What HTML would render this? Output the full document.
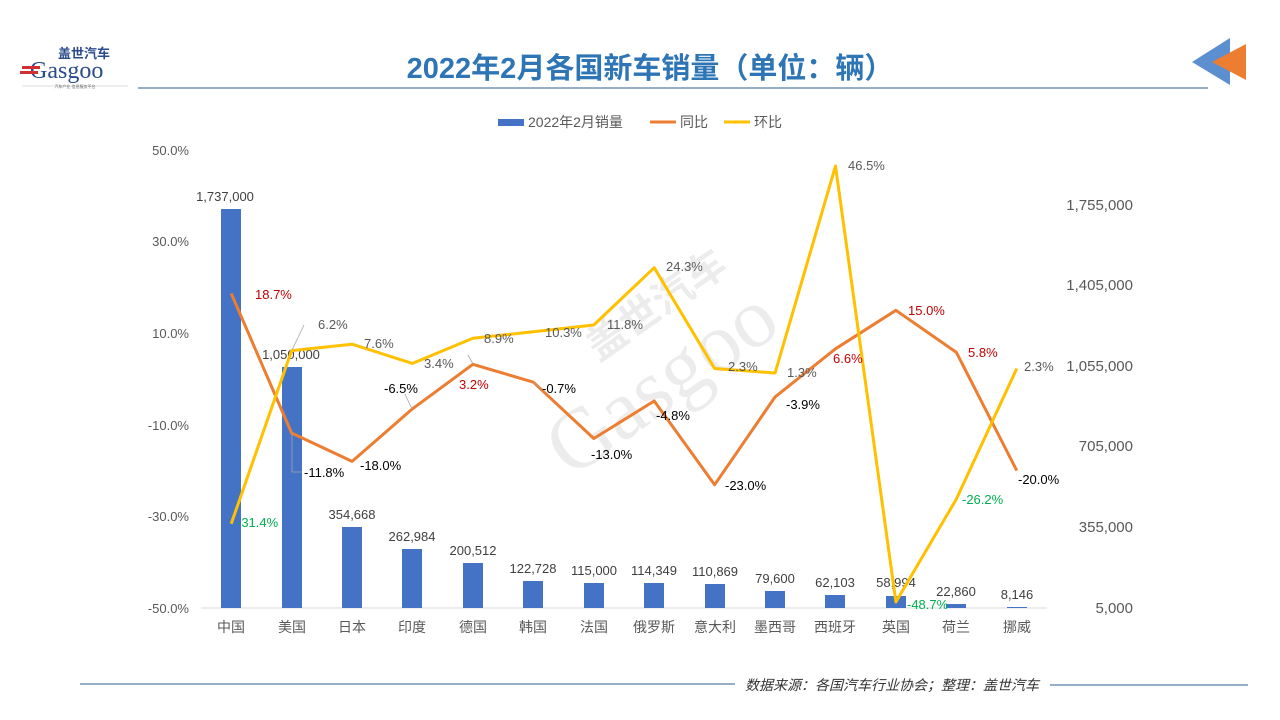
<!DOCTYPE html>
<html><head><meta charset="utf-8"><style>
body{margin:0;background:#fff;}
svg{display:block;font-family:"Liberation Sans","Noto Sans CJK SC",sans-serif;}
</style></head><body>
<svg width="1280" height="720" viewBox="0 0 1280 720">
<!-- logo -->
<text x="58" y="58" font-size="13" font-weight="bold" fill="#2a4b8c" font-family="Noto Sans CJK SC,sans-serif">盖世汽车</text>
<text x="30" y="78" font-size="24" fill="#2a4b8c" font-family="Liberation Serif,serif">Gasgoo</text>
<rect x="22" y="66" width="18" height="3" fill="#d03030"/><rect x="20" y="71" width="18" height="3" fill="#d03030"/>
<line x1="22" y1="86" x2="128" y2="86" stroke="#bbb" stroke-width="0.6"/>
<text x="75" y="88" font-size="4" fill="#666" text-anchor="middle">汽车产业 信息服务平台</text>
<line x1="138" y1="88" x2="1208" y2="88" stroke="#2e5f8a" stroke-width="1"/>
<text x="650" y="78" font-size="29" font-weight="bold" fill="#2e75b6" text-anchor="middle" font-family="Liberation Sans,Noto Sans CJK SC,sans-serif">2022年2月各国新车销量（单位：辆）</text>
<!-- top right arrows -->
<polygon points="1192,62 1230,38 1230,85" fill="#5b8fcf"/>
<polygon points="1212,62 1246,44 1246,80" fill="#ed7d31"/>
<!-- legend -->
<rect x="498" y="119" width="26" height="7" fill="#4472c4"/>
<text x="528" y="127" font-size="14" fill="#595959">2022年2月销量</text>
<line x1="650" y1="122" x2="676" y2="122" stroke="#ed7d31" stroke-width="3"/>
<text x="680" y="127" font-size="14" fill="#595959">同比</text>
<line x1="724" y1="122" x2="750" y2="122" stroke="#ffc000" stroke-width="3"/>
<text x="754" y="127" font-size="14" fill="#595959">环比</text>
<!-- watermark -->
<g opacity="0.07" transform="rotate(-35 660 380)">
<text x="660" y="410" font-size="85" fill="#000" text-anchor="middle" font-family="Liberation Serif,serif">Gasgoo</text>
<text x="700" y="330" font-size="40" font-weight="bold" fill="#000" text-anchor="middle" font-family="Noto Sans CJK SC,sans-serif">盖世汽车</text>
</g>
<!-- left axis -->
<g font-size="13" fill="#595959" text-anchor="end">
<text x="189" y="155">50.0%</text><text x="189" y="246">30.0%</text><text x="189" y="338">10.0%</text>
<text x="189" y="430">-10.0%</text><text x="189" y="521">-30.0%</text><text x="189" y="613">-50.0%</text>
</g>
<g font-size="15" fill="#595959" text-anchor="end">
<text x="1133" y="210">1,755,000</text><text x="1133" y="290">1,405,000</text><text x="1133" y="371">1,055,000</text>
<text x="1133" y="451">705,000</text><text x="1133" y="532">355,000</text><text x="1133" y="613">5,000</text>
</g>
<line x1="201" y1="608" x2="1047" y2="608" stroke="#d9d9d9"/>
<!-- bars -->
<g fill="#4472c4">
<rect x="221" y="209" width="20" height="399"/><rect x="282" y="367" width="20" height="241"/>
<rect x="342" y="527" width="20" height="81"/><rect x="402" y="549" width="20" height="59"/>
<rect x="463" y="563" width="20" height="45"/><rect x="523" y="581" width="20" height="27"/>
<rect x="584" y="583" width="20" height="25"/><rect x="644" y="583" width="20" height="25"/>
<rect x="705" y="584" width="20" height="24"/><rect x="765" y="591" width="20" height="17"/>
<rect x="825" y="595" width="20" height="13"/><rect x="886" y="596" width="20" height="12"/>
<rect x="946" y="604" width="20" height="4"/><rect x="1007" y="607" width="20" height="1"/>
</g>
<g font-size="13" fill="#404040" text-anchor="middle">
<text x="225" y="201">1,737,000</text><text x="291" y="359">1,050,000</text><text x="352" y="519">354,668</text>
<text x="412" y="541">262,984</text><text x="473" y="555">200,512</text><text x="533" y="573">122,728</text>
<text x="594" y="575">115,000</text><text x="654" y="575">114,349</text><text x="715" y="576">110,869</text>
<text x="775" y="583">79,600</text><text x="835" y="587">62,103</text><text x="896" y="587">58,994</text>
<text x="956" y="596">22,860</text><text x="1017" y="599">8,146</text>
</g>
<!-- categories -->
<g font-size="14" fill="#595959" text-anchor="middle" font-family="Noto Sans CJK SC,sans-serif">
<text x="231" y="632">中国</text><text x="292" y="632">美国</text><text x="352" y="632">日本</text><text x="412" y="632">印度</text>
<text x="473" y="632">德国</text><text x="533" y="632">韩国</text><text x="594" y="632">法国</text><text x="654" y="632">俄罗斯</text>
<text x="715" y="632">意大利</text><text x="775" y="632">墨西哥</text><text x="835" y="632">西班牙</text><text x="896" y="632">英国</text>
<text x="956" y="632">荷兰</text><text x="1017" y="632">挪威</text>
</g>
<!-- lines -->
<polyline fill="none" stroke="#ed7d31" stroke-width="3" stroke-linejoin="round" points="231.2,293.4 291.6,433 352.1,461.4 412.5,408.8 472.9,364.3 533.4,382.2 593.8,438.5 654.2,401 714.6,484.8 775.1,396.9 835.5,348.8 895.9,310.3 956.4,352.4 1016.8,470.6"/>
<polyline fill="none" stroke="#ffc000" stroke-width="3" stroke-linejoin="round" points="231.2,523.8 291.6,350.6 352.1,344.2 412.5,363.4 472.9,338.2 533.4,331.8 593.8,325 654.2,267.7 714.6,368.5 775.1,373 835.5,166 895.9,602 956.4,499 1016.8,368.5"/>
<!-- leader lines -->
<g stroke="#a6a6a6" stroke-width="0.8" fill="none">
<polyline points="292,433 292,472 302,472"/><polyline points="292,350 304,325"/>
<polyline points="473,364 468,355"/><polyline points="533,382 540,388"/><polyline points="412,409 405,394"/>
</g>
<!-- orange labels -->
<g font-size="13">
<text x="255" y="299" fill="#c00000">18.7%</text>
<text x="304" y="477" fill="#000">-11.8%</text>
<text x="360" y="470" fill="#000">-18.0%</text>
<text x="384" y="393" fill="#000">-6.5%</text>
<text x="459" y="389" fill="#c00000">3.2%</text>
<text x="542" y="393" fill="#000">-0.7%</text>
<text x="591" y="459" fill="#000">-13.0%</text>
<text x="656" y="420" fill="#000">-4.8%</text>
<text x="725" y="490" fill="#000">-23.0%</text>
<text x="786" y="409" fill="#000">-3.9%</text>
<text x="833" y="363" fill="#c00000">6.6%</text>
<text x="908" y="315" fill="#c00000">15.0%</text>
<text x="968" y="357" fill="#c00000">5.8%</text>
<text x="1018" y="484" fill="#000">-20.0%</text>
</g>
<!-- yellow labels -->
<g font-size="13" fill="#595959">
<text x="237" y="527" fill="#00b050">-31.4%</text>
<text x="318" y="329">6.2%</text>
<text x="364" y="348">7.6%</text>
<text x="424" y="368">3.4%</text>
<text x="484" y="343">8.9%</text>
<text x="545" y="337">10.3%</text>
<text x="607" y="329">11.8%</text>
<text x="666" y="271">24.3%</text>
<text x="728" y="371">2.3%</text>
<text x="787" y="377">1.3%</text>
<text x="848" y="170">46.5%</text>
<text x="907" y="609" fill="#00b050">-48.7%</text>
<text x="962" y="504" fill="#00b050">-26.2%</text>
<text x="1024" y="371">2.3%</text>
</g>
<!-- footer -->
<line x1="80" y1="684" x2="735" y2="684" stroke="#2e5f8a" stroke-width="1"/>
<line x1="1050" y1="685" x2="1248" y2="685" stroke="#2e5f8a" stroke-width="1"/>
<text x="745" y="690" font-size="14" fill="#333" font-style="italic" font-family="Noto Sans CJK SC,sans-serif">数据来源：各国汽车行业协会；整理：盖世汽车</text>
</svg>
</body></html>
